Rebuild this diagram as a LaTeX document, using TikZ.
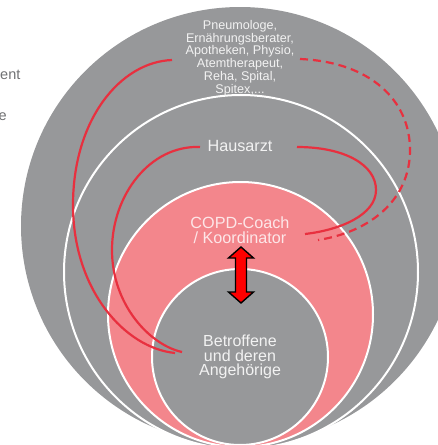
\documentclass[tikz,border=0pt]{standalone}
\usepackage{fontspec}
\setmainfont{Liberation Sans}
\definecolor{ringgrey}{HTML}{97989A}
\definecolor{ringpink}{HTML}{F3868C}
\definecolor{linkred}{HTML}{E8303F}
\definecolor{softwhite}{HTML}{F2F2F2}
\definecolor{pinkwhite}{HTML}{FDE6E8}
\definecolor{sidegrey}{HTML}{707173}
\tikzset{
  ring/.style={fill=#1, draw=white, line width=2pt},
  link/.style={draw=linkred, line width=2.2pt},
  linkdash/.style={link, dash pattern=on 8pt off 5pt},
  lbl/.style={align=center, inner sep=0pt, text=softwhite},
}
\begin{document}
\begin{tikzpicture}[x=1pt,y=-1pt]
\useasboundingbox (0,0) rectangle (438,445);
\clip (0,0) rectangle (438,445);
% rings
\fill[ringgrey] (240,226) circle (219);
\draw[ring=ringgrey] (241,272) circle (177);
\draw[ring=ringpink] (240.5,314.5) circle (132.5);
\draw[ring=ringgrey] (240,357) circle (88);
% labels
\node[lbl, font=\fontsize{12.6}{10.8}\selectfont] (others) at (240,58)
  {Pneumologe,\\Ernährungsberater,\\Apotheken, Physio,\\Atemtherapeut,\\Reha, Spital,\\Spitex,...};
\node[lbl, font=\fontsize{16.2}{15}\selectfont] (gp) at (240,146) {Hausarzt};
\node[lbl, text=pinkwhite, font=\fontsize{16.2}{15.5}\selectfont] (coach) at (240,230) {COPD-Coach\\/ Koordinator};
\node[lbl, font=\fontsize{16}{14.8}\selectfont] (patient) at (240,357) {Betroffene\\und deren\\Angehörige};
% cut-off side text
\node[anchor=west, inner sep=0pt, text=sidegrey, font=\fontsize{14.5}{15}\selectfont] (side1) at (0,75) {ent};
\node[anchor=west, inner sep=0pt, text=sidegrey, font=\fontsize{14.5}{15}\selectfont] (side2) at (-1.5,117) {e};
% connector end points
\coordinate (a1) at (172,60);
\coordinate (a2) at (175,353);
\coordinate (b1) at (200,147);
\coordinate (b2) at (182,352);
\coordinate (c1) at (297,147);
\coordinate (c2) at (305,234);
\coordinate (d1) at (300,59);
\coordinate (d2) at (318,240);
% red links
\draw[link] (a1) .. controls (120,62) and (73,120) .. (73,205)
  .. controls (73,290) and (125,348) .. (a2);
\draw[link] (b1) .. controls (150,145) and (112,195) .. (112,250)
  .. controls (112,305) and (150,345) .. (b2);
\draw[link] (c1) .. controls (345,147) and (376,165) .. (376,190)
  .. controls (376,215) and (340,230) .. (c2);
\draw[linkdash] (d1) .. controls (370,62) and (410,100) .. (410,150)
  .. controls (410,200) and (370,232) .. (d2);
% double arrow
\draw[fill=red, draw=black, line width=1.4pt, line join=miter]
  (241,247) -- (253.5,258) -- (246.5,258) -- (246.5,292) -- (253.5,292)
  -- (241,303) -- (228.5,292) -- (235.5,292) -- (235.5,258) -- (228.5,258) -- cycle;
\end{tikzpicture}
\end{document}
